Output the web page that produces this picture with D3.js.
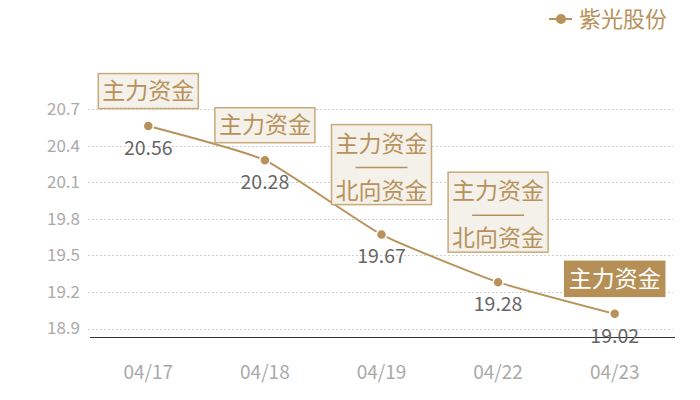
<!DOCTYPE html>
<html><head><meta charset="utf-8">
<script src="https://cdn.jsdelivr.net/npm/d3@7"></script>
<style>body{margin:0;background:#fff}svg{display:block}text{font-family:"Noto Sans CJK SC","Noto Sans",sans-serif}</style>
</head><body><svg id="c" width="700" height="400"></svg>
<script>
const categories = ["04/17","04/18","04/19","04/22","04/23"];
const values = [20.56, 20.28, 19.67, 19.28, 19.02];
const yTicks = [18.9, 19.2, 19.5, 19.8, 20.1, 20.4, 20.7];
const annotations = [["主力资金"],["主力资金"],["主力资金","北向资金"],["主力资金","北向资金"],["主力资金"]];
const highlighted = [false,false,false,false,true];
const seriesName = "紫光股份";

const gold = "#b8925a", boxFill = "#f4f0ea", boxStroke = "#c9a978";
const svg = d3.select("#c");
const left = 90, right = 673, bottom = 337.5;
const x = d3.scaleBand().domain(categories).range([left, right]);
const y = d3.scaleLinear().domain([18.9, 20.7]).range([328.5, 109]);

// grid
svg.append("g").selectAll("line").data(yTicks).join("line")
  .attr("x1", left-2).attr("x2", right).attr("y1", d=>Math.round(y(d))+0.5).attr("y2", d=>Math.round(y(d))+0.5)
  .attr("stroke", "#d0d0d0").attr("stroke-dasharray","2,2").attr("stroke-width",1);
// y labels
svg.append("g").selectAll("text").data(yTicks).join("text")
  .attr("x", 80).attr("y", d=>y(d)).attr("dy","0.35em").attr("text-anchor","end")
  .attr("fill","#aaaaaa").attr("font-size",17).text(d=>d.toFixed(1));
// x axis
svg.append("line").attr("x1",left).attr("x2",right+2).attr("y1",bottom).attr("y2",bottom)
  .attr("stroke","#333").attr("stroke-width",1);
svg.append("g").selectAll("text").data(categories).join("text")
  .attr("x", d=>x(d)+x.bandwidth()/2).attr("y", 372).attr("dy","0.35em")
  .attr("text-anchor","middle").attr("fill","#aaaaaa").attr("font-size",19).text(d=>d);

const pts = categories.map((c,i)=>({c, v:values[i], a:annotations[i], h:highlighted[i]}));
const cx = d=>x(d.c)+x.bandwidth()/2;
const line = d3.line().x(cx).y(d=>y(d.v)).curve(d3.curveCardinal.tension(0.55));
svg.append("path").datum(pts).attr("d", line).attr("fill","none").attr("stroke",gold).attr("stroke-width",2);
svg.append("g").selectAll("circle").data(pts).join("circle")
  .attr("cx",cx).attr("cy",d=>y(d.v)).attr("r",5).attr("fill",gold).attr("stroke","#fff").attr("stroke-width",1.5);
svg.append("g").selectAll("text").data(pts).join("text")
  .attr("x",cx).attr("y",d=>y(d.v)+22).attr("dy","0.35em").attr("text-anchor","middle")
  .attr("fill","#666").attr("font-size",19.5).text(d=>d.v.toFixed(2));

// annotation boxes
const bw = 100;
const ag = svg.append("g").selectAll("g").data(pts).join("g");
ag.each(function(d){
  const g = d3.select(this);
  const two = d.a.length > 1;
  const h = two ? 80 : 35;
  const bot = y(d.v) - (two ? 30 : 17.5);
  const top = bot - h;
  g.append("rect").attr("x", cx(d)-bw/2).attr("y", top).attr("width", bw).attr("height", h)
    .attr("fill", d.h ? "#b58f55" : boxFill).attr("stroke", d.h ? "#b58f55" : boxStroke).attr("stroke-width",1.5);
  const tc = d.h ? "#fff" : gold;
  if (!two) {
    g.append("text").attr("x",cx(d)).attr("y",top+h/2).attr("dy","0.36em").attr("text-anchor","middle")
      .attr("fill",tc).attr("font-size",23).text(d.a[0]);
  } else {
    g.append("text").attr("x",cx(d)).attr("y",top+19).attr("dy","0.36em").attr("text-anchor","middle")
      .attr("fill",tc).attr("font-size",23).text(d.a[0]);
    g.append("line").attr("x1",cx(d)-26).attr("x2",cx(d)+26).attr("y1",top+43).attr("y2",top+43)
      .attr("stroke",gold).attr("stroke-width",1.5);
    g.append("text").attr("x",cx(d)).attr("y",top+66).attr("dy","0.36em").attr("text-anchor","middle")
      .attr("fill",tc).attr("font-size",23).text(d.a[1]);
  }
});

// legend
const lg = svg.append("g");
lg.append("line").attr("x1",549).attr("x2",572).attr("y1",19).attr("y2",19).attr("stroke",gold).attr("stroke-width",2);
lg.append("circle").attr("cx",561).attr("cy",19).attr("r",5).attr("fill",gold);
lg.append("text").attr("x",579).attr("y",19).attr("dy","0.36em").attr("fill",gold).attr("font-size",22).text(seriesName);
</script></body></html>
